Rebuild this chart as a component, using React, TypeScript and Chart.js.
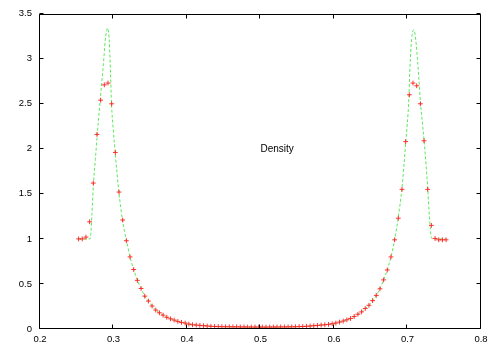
import React, { useEffect, useRef } from "react";
import { Chart, registerables } from "chart.js";

Chart.register(...registerables);

const xTicks = [0.2, 0.3, 0.4, 0.5, 0.6, 0.7, 0.8];
const yTicks = [0, 0.5, 1, 1.5, 2, 2.5, 3, 3.5];

const redX = [
  0.2525, 0.2575, 0.2625, 0.2675, 0.2725, 0.2775, 0.2825, 0.2875, 0.2925, 0.2975,
  0.3025, 0.3075, 0.3125, 0.3175, 0.3225, 0.3275, 0.3325, 0.3375, 0.3425, 0.3475,
  0.3525, 0.3575, 0.3625, 0.3675, 0.3725, 0.3775, 0.3825, 0.3875, 0.3925, 0.3975,
  0.4025, 0.4075, 0.4125, 0.4175, 0.4225, 0.4275, 0.4325, 0.4375, 0.4425, 0.4475,
  0.4525, 0.4575, 0.4625, 0.4675, 0.4725, 0.4775, 0.4825, 0.4875, 0.4925, 0.4975,
  0.5025, 0.5075, 0.5125, 0.5175, 0.5225, 0.5275, 0.5325, 0.5375, 0.5425, 0.5475,
  0.5525, 0.5575, 0.5625, 0.5675, 0.5725, 0.5775, 0.5825, 0.5875, 0.5925, 0.5975,
  0.6025, 0.6075, 0.6125, 0.6175, 0.6225, 0.6275, 0.6325, 0.6375, 0.6425, 0.6475,
  0.6525, 0.6575, 0.6625, 0.6675, 0.6725, 0.6775, 0.6825, 0.6875, 0.6925, 0.6975,
  0.7025, 0.7075, 0.7125, 0.7175, 0.7225, 0.7275, 0.7325, 0.7375, 0.7425, 0.7475,
  0.7525,
];

const redY = [
  1.0, 1.0, 1.02, 1.19, 1.62, 2.16, 2.54, 2.71, 2.73, 2.5,
  1.96, 1.52, 1.21, 0.98, 0.8, 0.66, 0.54, 0.45, 0.365, 0.31,
  0.255, 0.21, 0.18, 0.154, 0.13, 0.113, 0.099, 0.084, 0.073, 0.066,
  0.055, 0.047, 0.044, 0.04, 0.037, 0.033, 0.03, 0.028, 0.027, 0.026,
  0.025, 0.025, 0.024, 0.024, 0.023, 0.023, 0.022, 0.022, 0.022, 0.021,
  0.021, 0.021, 0.022, 0.022, 0.022, 0.023, 0.023, 0.024, 0.024, 0.025,
  0.027, 0.028, 0.03, 0.033, 0.037, 0.04, 0.044, 0.047, 0.051, 0.058,
  0.066, 0.077, 0.088, 0.102, 0.117, 0.139, 0.164, 0.19, 0.227, 0.263,
  0.315, 0.373, 0.446, 0.545, 0.655, 0.8, 0.99, 1.23, 1.55, 2.08,
  2.6, 2.73, 2.7, 2.5, 2.09, 1.55, 1.15, 1.005, 0.99, 0.99,
  0.99,
];

const greenLeftX = [
  0.2525, 0.2683, 0.2707, 0.2728, 0.2753, 0.2779, 0.2799, 0.2819, 0.2838, 0.2856,
  0.2874, 0.2887, 0.2904, 0.2919, 0.2935, 0.2948, 0.2959, 0.2973, 0.2996, 0.3023,
  0.3048, 0.3073, 0.3098, 0.3122, 0.315, 0.3177,
];
const greenLeftY = [
  1.0, 1.0, 1.28, 1.62, 1.88, 2.16, 2.35, 2.54, 2.72, 2.88,
  3.06, 3.2, 3.3, 3.34, 3.28, 3.1, 2.85, 2.5, 2.22, 1.96,
  1.73, 1.52, 1.35, 1.21, 1.08, 0.98,
];
const greenMidX = [
  0.3225, 0.3275, 0.3325, 0.3375, 0.3425, 0.3475, 0.3525, 0.3575, 0.3625, 0.3675,
  0.3725, 0.3775, 0.3825, 0.3875, 0.3925, 0.3975, 0.4025, 0.4075, 0.4125, 0.4175,
  0.4225, 0.4275, 0.4325, 0.4375, 0.4425, 0.4475, 0.4525, 0.4575, 0.4625, 0.4675,
  0.4725, 0.4775, 0.4825, 0.4875, 0.4925, 0.4975, 0.5025, 0.5075, 0.5125, 0.5175,
  0.5225, 0.5275, 0.5325, 0.5375, 0.5425, 0.5475, 0.5525, 0.5575, 0.5625, 0.5675,
  0.5725, 0.5775, 0.5825, 0.5875, 0.5925, 0.5975, 0.6025, 0.6075, 0.6125, 0.6175,
  0.6225, 0.6275, 0.6325, 0.6375, 0.6425, 0.6475, 0.6525, 0.6575, 0.6625, 0.6675,
  0.6725, 0.6775, 0.6825,
];
const greenMidY = [
  0.8, 0.66, 0.54, 0.45, 0.365, 0.31, 0.255, 0.21, 0.18, 0.154,
  0.13, 0.113, 0.099, 0.084, 0.073, 0.066, 0.055, 0.047, 0.044, 0.04,
  0.037, 0.033, 0.03, 0.028, 0.027, 0.026, 0.025, 0.025, 0.024, 0.024,
  0.023, 0.023, 0.022, 0.022, 0.022, 0.021, 0.021, 0.021, 0.022, 0.022,
  0.022, 0.023, 0.023, 0.024, 0.024, 0.025, 0.027, 0.028, 0.03, 0.033,
  0.037, 0.04, 0.044, 0.047, 0.051, 0.058, 0.066, 0.077, 0.088, 0.102,
  0.117, 0.139, 0.164, 0.19, 0.227, 0.263, 0.315, 0.373, 0.446, 0.545,
  0.655, 0.8, 0.99,
];
const greenRightX = [
  0.6872, 0.6923, 0.6977, 0.7018, 0.7031, 0.7048, 0.7065, 0.7086, 0.7103, 0.712,
  0.7135, 0.7151, 0.7177, 0.7201, 0.7226, 0.7253, 0.7276, 0.7294, 0.731, 0.7326,
  0.7344, 0.7525,
];
const greenRightY = [
  1.23, 1.55, 2.08, 2.55, 2.85, 3.13, 3.28, 3.32, 3.27, 3.15,
  3.0, 2.82, 2.51, 2.3, 2.09, 1.82, 1.55, 1.3, 1.12, 1.01,
  1.0, 1.0,
];

const labelText = "Density";
const labelX = 0.5;
const labelY = 2.0;

const FONT = '"Liberation Sans", Arial, Helvetica, sans-serif';

const fmt = (v: number) => String(Math.round(v * 10) / 10);

const framePlugin = {
  id: "gnuframe",
  afterDraw(chart: any) {
    const { ctx, chartArea: a, scales } = chart;
    const xs = scales.x;
    const ys = scales.y;
    ctx.save();
    ctx.strokeStyle = "#000";
    ctx.lineWidth = 1;
    const L = Math.round(a.left) - 0.5;
    const R = Math.round(a.right) - 0.5;
    const T = Math.round(a.top) + 0.5;
    const B = Math.round(a.bottom) - 0.5;
    ctx.beginPath();
    ctx.rect(L, T, R - L, B - T);
    ctx.stroke();
    const tl = 4;
    ctx.beginPath();
    for (const v of xTicks) {
      const px = Math.round(xs.getPixelForValue(v)) - 0.5;
      ctx.moveTo(px, B);
      ctx.lineTo(px, B - tl);
      ctx.moveTo(px, T);
      ctx.lineTo(px, T + tl);
    }
    for (const v of yTicks) {
      const py = Math.round(ys.getPixelForValue(v)) - 0.5;
      ctx.moveTo(L, py);
      ctx.lineTo(L + tl, py);
      ctx.moveTo(R, py);
      ctx.lineTo(R - tl, py);
    }
    ctx.stroke();
    ctx.fillStyle = "#000";
    ctx.font = `10px ${FONT}`;
    ctx.textAlign = "left";
    ctx.textBaseline = "middle";
    ctx.fillText(labelText, xs.getPixelForValue(labelX), ys.getPixelForValue(labelY));
    ctx.restore();
  },
};

export default function App() {
  const ref = useRef<HTMLCanvasElement | null>(null);
  useEffect(() => {
    const canvas = ref.current;
    if (!canvas) return;
    const redData = redX.map((x, i) => ({ x, y: redY[i] }));
    const greenXs = [...greenLeftX, ...greenMidX, ...greenRightX];
    const greenYs = [...greenLeftY, ...greenMidY, ...greenRightY];
    const greenData = greenXs.map((x, i) => ({ x, y: greenYs[i] }));
    const tickFont = { family: FONT, size: 9.5 };
    const chart = new Chart(canvas, {
      type: "scatter",
      data: {
        datasets: [
          {
            label: "points",
            data: redData,
            showLine: false,
            pointStyle: "cross",
            pointRadius: 2.4,
            pointBorderWidth: 1,
            pointBorderColor: "rgba(255,30,30,0.9)",
            pointBackgroundColor: "rgba(255,30,30,0.9)",
            borderColor: "rgba(255,30,30,0.9)",
          },
          {
            label: "curve",
            data: greenData,
            showLine: true,
            pointRadius: 0,
            borderColor: "rgb(95,232,95)",
            borderWidth: 1,
            borderDash: [3, 2],
            cubicInterpolationMode: "monotone",
          },
        ],
      },
      options: {
        responsive: false,
        animation: false,
        events: [],
        layout: { padding: { top: 11, right: 17, left: 0, bottom: 0 } },
        plugins: {
          legend: { display: false },
          tooltip: { enabled: false },
          title: { display: false },
        },
        scales: {
          x: {
            type: "linear",
            min: 0.2,
            max: 0.8,
            afterBuildTicks: (s: any) => {
              s.ticks = xTicks.map((v) => ({ value: v }));
            },
            afterFit: (s: any) => {
              s.height = 20;
            },
            ticks: {
              callback: (v: any) => fmt(Number(v)),
              font: tickFont,
              color: "#000",
              padding: 5,
              maxRotation: 0,
              autoSkip: false,
            },
            grid: { display: false, drawTicks: false },
            border: { display: false },
          },
          y: {
            type: "linear",
            min: 0,
            max: 3.5,
            afterBuildTicks: (s: any) => {
              s.ticks = yTicks.map((v) => ({ value: v }));
            },
            afterFit: (s: any) => {
              s.width = 40;
            },
            ticks: {
              callback: (v: any) => fmt(Number(v)),
              font: tickFont,
              color: "#000",
              padding: 8,
              autoSkip: false,
            },
            grid: { display: false, drawTicks: false },
            border: { display: false },
          },
        },
      },
      plugins: [framePlugin],
    } as any);
    return () => chart.destroy();
  }, []);
  return (
    <div style={{ position: "absolute", left: 0, top: 0, width: 498, height: 349, background: "#fff" }}>
      <canvas ref={ref} width={498} height={349} style={{ display: "block" }} />
    </div>
  );
}
